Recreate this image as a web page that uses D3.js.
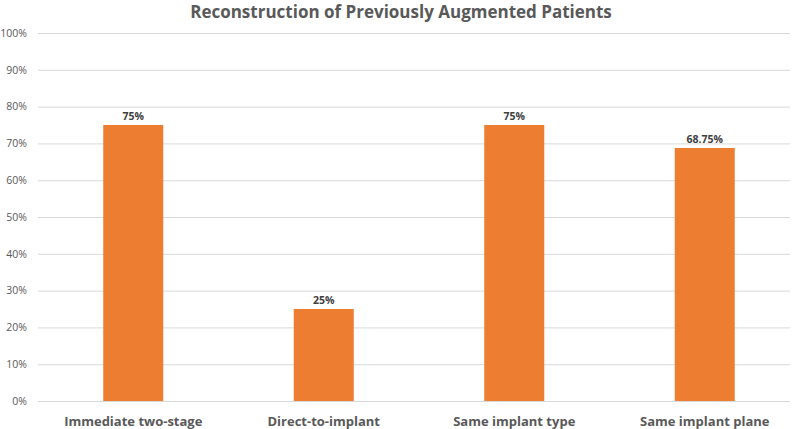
<!DOCTYPE html>
<html><head><meta charset="utf-8">
<script src="https://cdn.jsdelivr.net/npm/d3@7"></script>
<style>body{margin:0;background:#fff;} svg{display:block;}</style>
</head><body>
<svg id="c" width="800" height="429"></svg>
<script>
const categories = ["Immediate two-stage", "Direct-to-implant", "Same implant type", "Same implant plane"];
const values = [75, 25, 75, 68.75];
const valueLabels = ["75%", "25%", "75%", "68.75%"];
const yTicks = [0, 10, 20, 30, 40, 50, 60, 70, 80, 90, 100];
const title = "Reconstruction of Previously Augmented Patients";

(function () {
const svg = d3.select("#c");
const font = "'Open Sans', 'Liberation Sans', sans-serif";
const mLeft = 38, mRight = 800, mTop = 33, mBottom = 401;

const x = d3.scaleBand().domain(categories).range([mLeft, mRight]).paddingInner(0.685).paddingOuter(0.3425);
const y = d3.scaleLinear().domain([0, 100]).range([mBottom, mTop]);

// gridlines
svg.append("g").selectAll("line").data(yTicks).join("line")
  .attr("x1", mLeft).attr("x2", 790)
  .attr("y1", d => y(d) + 0.5).attr("y2", d => y(d) + 0.5)
  .attr("stroke", "#d9d9d9").attr("stroke-width", 1);

// y axis labels
const yAxis = d3.axisLeft(y).tickValues(yTicks).tickFormat(d => d + "%").tickSize(0).tickPadding(0);
const ya = svg.append("g").attr("transform", `translate(27,0)`).call(yAxis);
ya.select(".domain").remove();
ya.selectAll("text").attr("font-family", font).attr("font-size", 10.5).attr("fill", "#595959");

// bars
svg.append("g").selectAll("rect").data(values).join("rect")
  .attr("x", (d, i) => x(categories[i]))
  .attr("width", x.bandwidth())
  .attr("y", d => y(d))
  .attr("height", d => y(0) - y(d))
  .attr("fill", "#ED7D31");

// value labels
svg.append("g").selectAll("text").data(values).join("text")
  .attr("x", (d, i) => x(categories[i]) + x.bandwidth() / 2)
  .attr("y", d => y(d) - 5)
  .attr("text-anchor", "middle")
  .attr("font-family", font).attr("font-size", 10.5).attr("font-weight", "bold")
  .attr("fill", "#404040")
  .text((d, i) => valueLabels[i]);

// x axis labels
const xAxis = d3.axisBottom(x).tickSize(0).tickPadding(0);
const xa = svg.append("g").attr("transform", `translate(0,${mBottom + 16})`).call(xAxis);
xa.select(".domain").remove();
xa.selectAll("text").attr("font-family", font).attr("font-size", 13).attr("font-weight", "bold").attr("fill", "#595959");

// title
svg.append("text").attr("x", 401).attr("y", 18).attr("text-anchor", "middle")
  .attr("font-family", font).attr("font-size", 17).attr("font-weight", "bold").attr("fill", "#595959")
  .text(title);
})();
</script>
</body></html>
